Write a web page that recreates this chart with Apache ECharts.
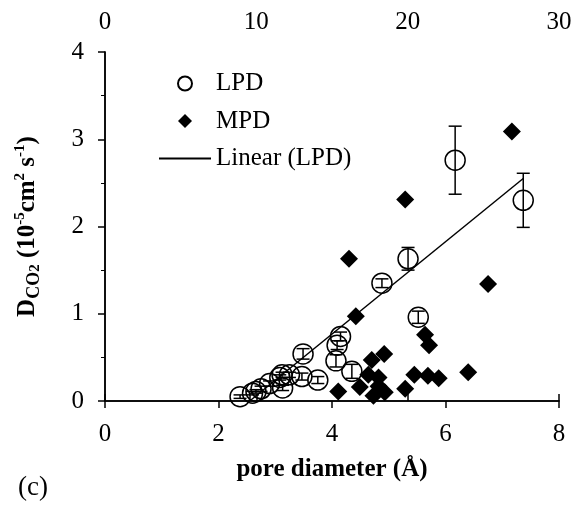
<!DOCTYPE html>
<html>
<head>
<meta charset="utf-8">
<script src="https://cdn.jsdelivr.net/npm/echarts@6/dist/echarts.min.js"></script>
<style>
  html, body { margin: 0; padding: 0; background: #fff; }
  #main { width: 576px; height: 510px; }
</style>
</head>
<body>
<div id="main"></div>
<script>
// LPD: pore diameter (A), D_CO2 (1e-5 cm2/s), error
var lpdX   = [2.38, 2.60, 2.66, 2.75, 2.90, 3.08, 3.12, 3.13, 3.25, 3.47, 3.75, 3.49, 4.15, 4.09, 4.07, 4.35, 4.88, 5.34, 5.52, 6.17, 7.37];
var lpdY   = [0.05, 0.09, 0.11, 0.14, 0.20, 0.27, 0.30, 0.15, 0.30, 0.28, 0.24, 0.54, 0.74, 0.64, 0.46, 0.34, 1.35, 1.63, 0.96, 2.76, 2.30];
var lpdErr = [0.02, 0.02, 0.02, 0.03, 0.03, 0.03, 0.03, 0.03, 0.03, 0.04, 0.04, 0.06, 0.05, 0.05, 0.07, 0.08, 0.05, 0.13, 0.07, 0.39, 0.31];

// MPD
var mpdX = [7.17, 5.29, 4.30, 6.75, 4.42, 5.64, 5.71, 4.92, 4.70, 6.40, 5.45, 5.69, 5.88, 4.64, 4.82, 4.49, 4.82, 4.73, 4.93, 4.11, 5.29];
var mpdY = [3.09, 2.31, 1.63, 1.34, 0.97, 0.76, 0.64, 0.54, 0.47, 0.33, 0.30, 0.29, 0.26, 0.30, 0.27, 0.16, 0.17, 0.06, 0.10, 0.11, 0.14];

// Linear (LPD) trend line end points
var trendX = [2.55, 7.37];
var trendY = [0.0, 2.55];

var xTicks = [0, 2, 4, 6, 8];
var topTicks = [0, 10, 20, 30];
var yTicks = [0, 1, 2, 3, 4];

var font = 'Liberation Serif';
var fs = 25;

function zip(a, b) {
    return a.map(function (v, i) { return [v, b[i]]; });
}

var errData = lpdX.map(function (x, i) {
    return [x, lpdY[i] - lpdErr[i], lpdY[i] + lpdErr[i]];
});

function renderErr(params, api) {
    var lo = api.coord([api.value(0), api.value(1)]);
    var hi = api.coord([api.value(0), api.value(2)]);
    var w = 6.5;
    var st = { stroke: '#000', lineWidth: 1.5 };
    return {
        type: 'group',
        children: [
            { type: 'line', shape: { x1: lo[0], y1: lo[1], x2: hi[0], y2: hi[1] }, style: st },
            { type: 'line', shape: { x1: lo[0] - w, y1: lo[1], x2: lo[0] + w, y2: lo[1] }, style: st },
            { type: 'line', shape: { x1: hi[0] - w, y1: hi[1], x2: hi[0] + w, y2: hi[1] }, style: st }
        ]
    };
}

var axisLine = { lineStyle: { color: '#000', width: 1.5 } };
var tick = { inside: false, length: 7, lineStyle: { color: '#000', width: 1.5 } };

// small diamond centred in a 52x14 legend box
var legendDiamond = 'path://M0,0M52,14M19,7L26,0L33,7L26,14Z';

var option = {
    animation: false,
    backgroundColor: '#fff',
    textStyle: { fontFamily: font, color: '#000' },
    grid: { left: 105, right: 17, top: 52, bottom: 109 },
    legend: {
        orient: 'vertical',
        left: 153,
        top: 66,
        itemWidth: 52,
        itemHeight: 14,
        itemGap: 12.5,
        data: [
            { name: 'LPD' },
            { name: 'MPD', icon: legendDiamond },
            { name: 'Linear (LPD)', itemStyle: { color: 'rgba(0,0,0,0)', borderColor: 'rgba(0,0,0,0)' } }
        ],
        textStyle: { fontFamily: font, fontSize: fs, color: '#000' }
    },
    xAxis: [{
        type: 'value', position: 'bottom',
        min: 0, max: 8, interval: 2,
        name: 'pore diameter (Å)', nameLocation: 'middle', nameGap: 56,
        nameTextStyle: { fontFamily: font, fontSize: fs, fontWeight: 'bold', color: '#000' },
        axisLine: axisLine,
        axisTick: tick,
        axisLabel: { fontFamily: font, fontSize: fs, color: '#000', margin: 21,
            formatter: function (v) { return xTicks.indexOf(v) >= 0 ? String(v) : ''; } },
        splitLine: { show: false }
    }, {
        type: 'value', position: 'top',
        min: 0, max: 30, interval: 10,
        axisLine: axisLine,
        axisTick: tick,
        axisLabel: { fontFamily: font, fontSize: fs, color: '#000', margin: 17,
            formatter: function (v) { return topTicks.indexOf(v) >= 0 ? String(v) : ''; } },
        splitLine: { show: false }
    }],
    yAxis: [{
        type: 'value', position: 'left',
        min: 0, max: 4, interval: 1,
        name: '{b|D}{sub|CO}{sub2|2}{b| (10}{sup|-5}{b|cm}{sup|2}{b| s}{sup|-1}{b|)}',
        nameLocation: 'middle', nameGap: 62, nameRotate: 90,
        nameTextStyle: {
            rich: {
                b: { fontFamily: font, fontSize: fs, fontWeight: 'bold', color: '#000', lineHeight: 30 },
                sub: { fontFamily: font, fontSize: 18, fontWeight: 'bold', color: '#000', verticalAlign: 'bottom', lineHeight: 22 },
                sub2: { fontFamily: font, fontSize: 15, fontWeight: 'bold', color: '#000', verticalAlign: 'bottom', lineHeight: 14 },
                sup: { fontFamily: font, fontSize: 15, fontWeight: 'bold', color: '#000', verticalAlign: 'top', lineHeight: 22 }
            }
        },
        axisLine: axisLine,
        axisTick: tick,
        minorTick: { show: true, splitNumber: 2, length: 4, lineStyle: { color: '#000', width: 1 } },
        axisLabel: { fontFamily: font, fontSize: fs, color: '#000', margin: 21,
            formatter: function (v) { return yTicks.indexOf(v) >= 0 ? String(v) : ''; } },
        splitLine: { show: false }
    }, {
        type: 'value', position: 'right',
        min: 0, max: 4, interval: 1,
        axisLine: { show: true, lineStyle: { color: '#000', width: 1.5 } },
        axisTick: { show: false },
        axisLabel: { show: false },
        splitLine: { show: false }
    }],
    series: [{
        name: 'Linear (LPD)',
        type: 'line',
        data: zip(trendX, trendY),
        showSymbol: false,
        symbol: 'none',
        lineStyle: { color: '#000', width: 1.5 },
        itemStyle: { color: '#000' },
        z: 2
    }, {
        name: 'MPD',
        type: 'scatter',
        data: zip(mpdX, mpdY),
        symbol: 'diamond',
        symbolSize: 18,
        symbolKeepAspect: true,
        itemStyle: { color: '#000', opacity: 1 },
        z: 3
    }, {
        name: 'LPD',
        type: 'scatter',
        data: zip(lpdX, lpdY),
        symbol: 'circle',
        symbolSize: 20,
        itemStyle: { color: 'rgba(255,255,255,0)', borderColor: '#000', borderWidth: 1.5, opacity: 1 },
        z: 4
    }, {
        name: 'err',
        type: 'custom',
        renderItem: renderErr,
        data: errData,
        encode: { x: 0, y: [1, 2] },
        z: 5
    }],
    graphic: [{
        type: 'text', left: 18, top: 474,
        style: { text: '(c)', fontFamily: font, fontSize: 27, fill: '#000' }
    }]
};

echarts.init(document.getElementById('main')).setOption(option);
</script>
</body>
</html>
